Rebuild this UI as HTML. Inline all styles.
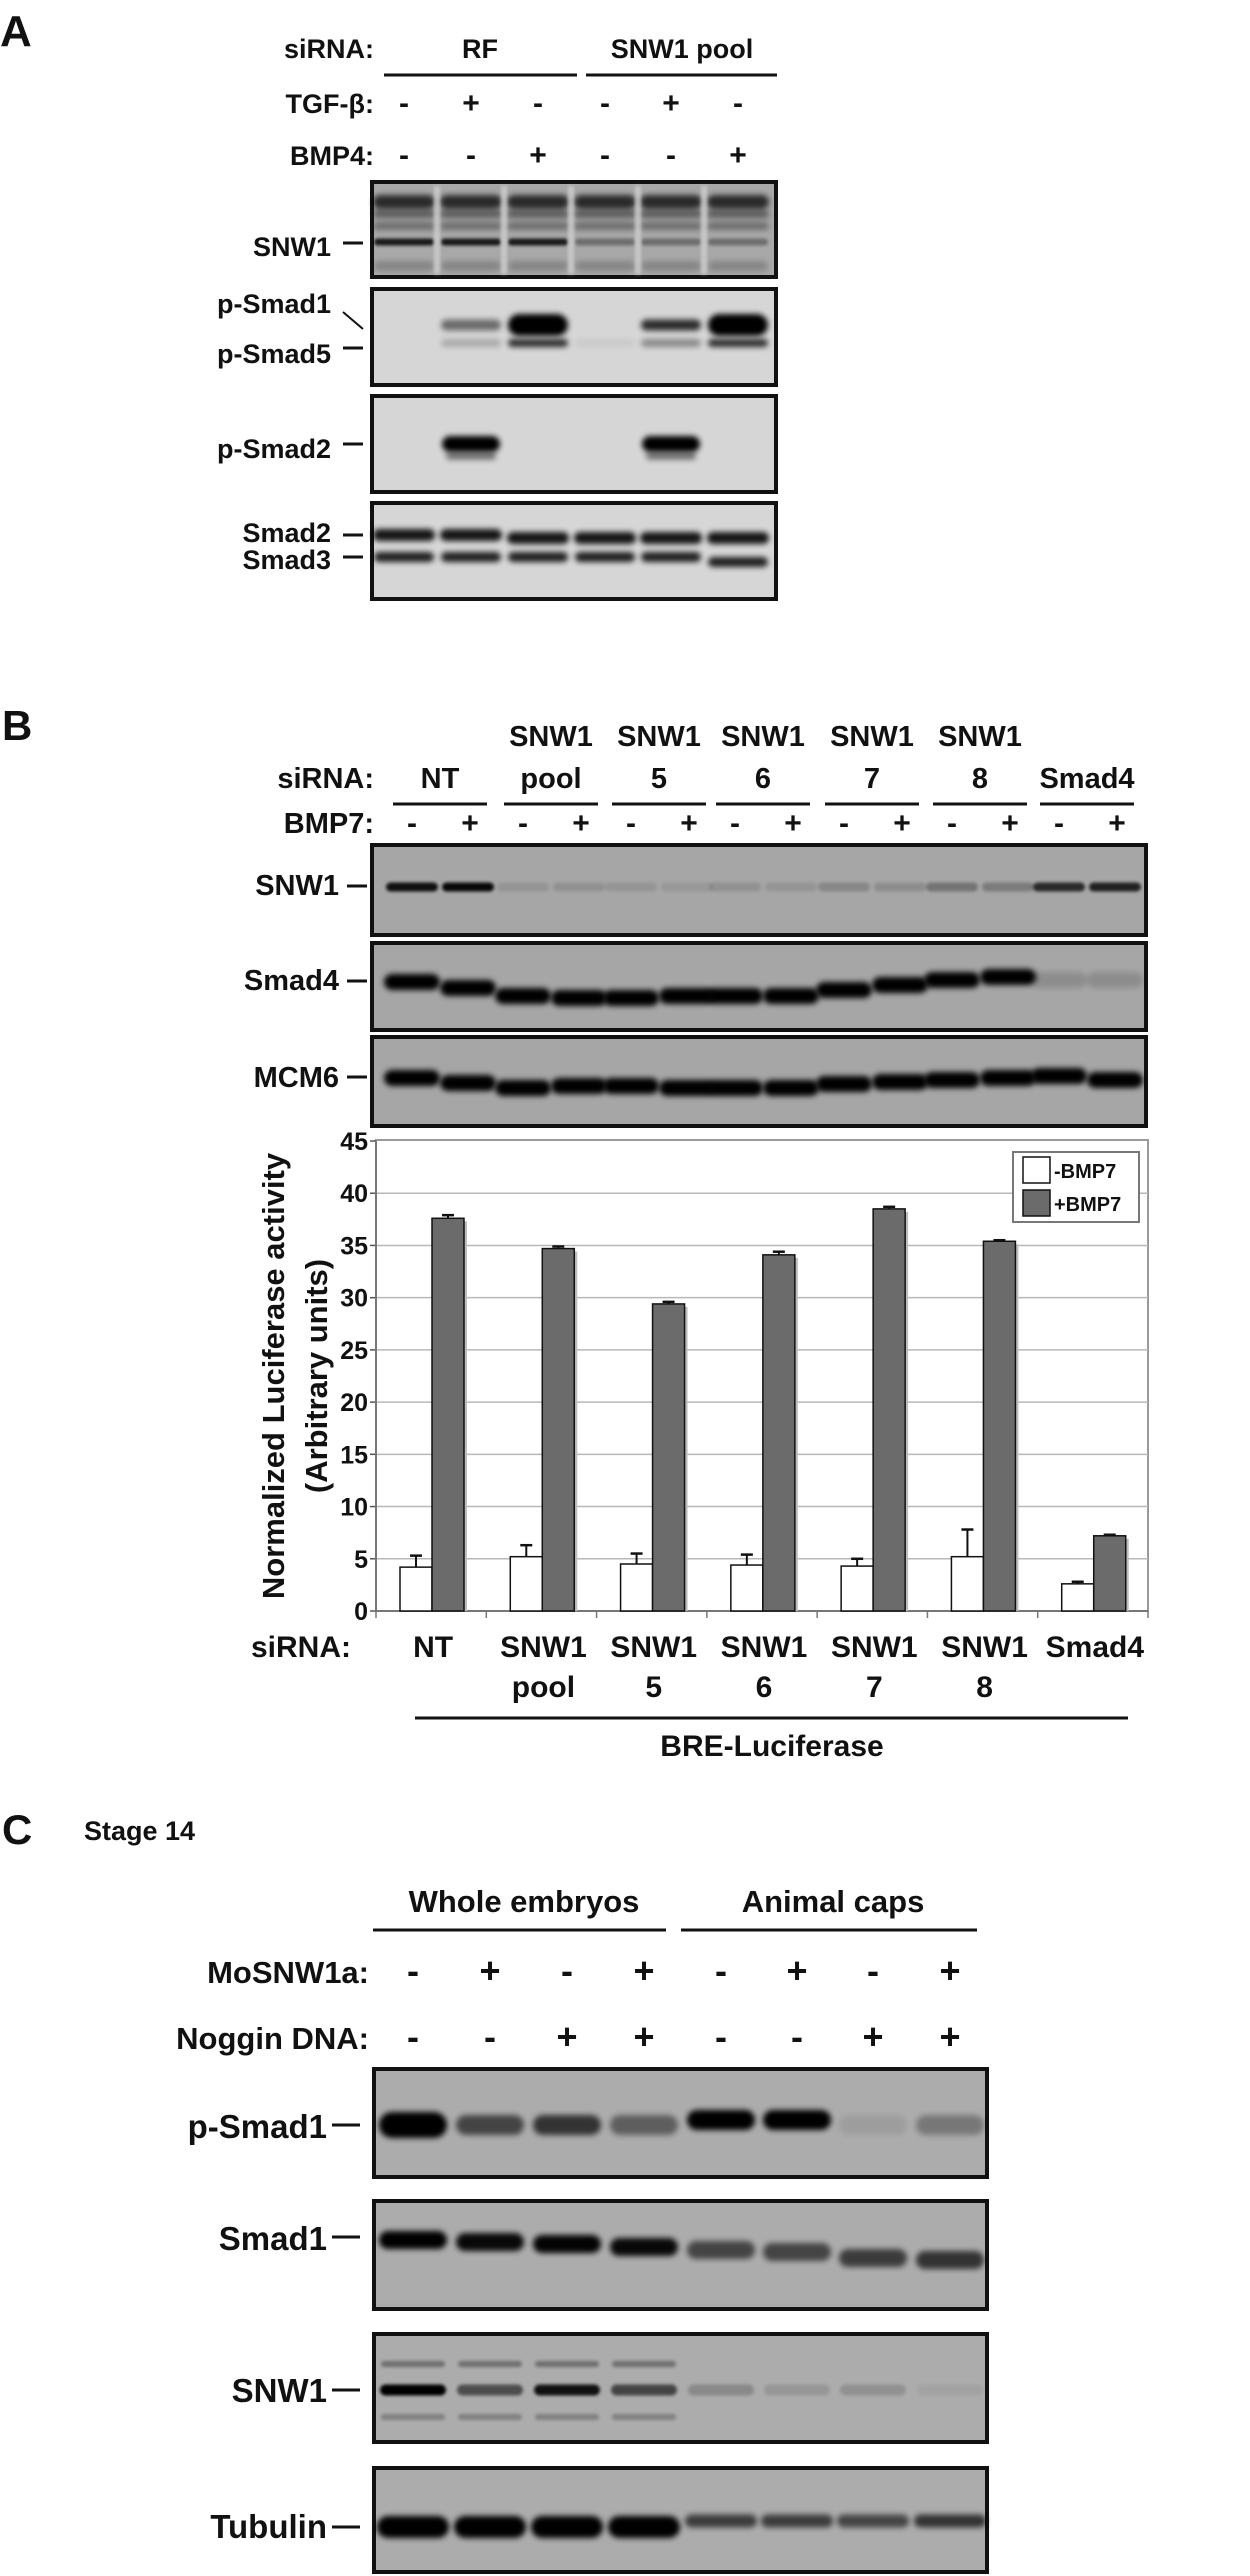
<!DOCTYPE html>
<html><head><meta charset="utf-8"><style>
html,body{margin:0;padding:0;background:#fff;}
svg{display:block;}
text{font-family:"Liberation Sans",Arial,sans-serif;font-weight:bold;fill:#111;}
</style></head><body>
<svg id="fig" width="1250" height="2576" viewBox="0 0 1250 2576" xmlns="http://www.w3.org/2000/svg">
<defs>
<filter id="blur" x="-20%" y="-100%" width="140%" height="300%"><feGaussianBlur stdDeviation="3"/></filter>
<filter id="blur2" x="-20%" y="-100%" width="140%" height="300%"><feGaussianBlur stdDeviation="1.6"/></filter>
</defs>

<!-- PANEL A -->
<g>
<text x="0" y="46" font-size="44">A</text>
<text x="374" y="58" font-size="27" text-anchor="end">siRNA:</text>
<text x="480" y="58" font-size="27" text-anchor="middle">RF</text>
<text x="682" y="58" font-size="27" text-anchor="middle">SNW1 pool</text>
<line x1="384" y1="75" x2="577" y2="75" stroke="#111" stroke-width="3"/>
<line x1="586" y1="75" x2="777" y2="75" stroke="#111" stroke-width="3"/>
<text x="374" y="113" font-size="27" text-anchor="end">TGF-β:</text>
<text x="374" y="165" font-size="27" text-anchor="end">BMP4:</text>
<g id="aSigns"></g>
<g id="aBlots"></g>
<text x="331" y="256" font-size="27" text-anchor="end">SNW1</text>
<line x1="343" y1="243" x2="363" y2="243" stroke="#111" stroke-width="3"/>
<text x="331" y="313" font-size="27" text-anchor="end">p-Smad1</text>
<line x1="343" y1="312" x2="363" y2="329" stroke="#111" stroke-width="2"/>
<text x="331" y="363" font-size="27" text-anchor="end">p-Smad5</text>
<line x1="343" y1="348" x2="363" y2="348" stroke="#111" stroke-width="3"/>
<text x="331" y="458" font-size="27" text-anchor="end">p-Smad2</text>
<line x1="343" y1="444" x2="363" y2="444" stroke="#111" stroke-width="3"/>
<text x="331" y="542" font-size="27" text-anchor="end">Smad2</text>
<line x1="343" y1="535" x2="363" y2="535" stroke="#111" stroke-width="3"/>
<text x="331" y="569" font-size="27" text-anchor="end">Smad3</text>
<line x1="343" y1="557" x2="363" y2="557" stroke="#111" stroke-width="3"/>
</g>

<!-- PANEL B -->
<g>
<text x="2" y="740" font-size="42">B</text>
<g id="bHeader"></g>
<text x="374" y="788" font-size="29" text-anchor="end">siRNA:</text>
<text x="374" y="833" font-size="29" text-anchor="end">BMP7:</text>
<g id="bBlots"></g>
<text x="339" y="895" font-size="29" text-anchor="end">SNW1</text>
<line x1="347" y1="886" x2="367" y2="886" stroke="#111" stroke-width="3"/>
<text x="339" y="990" font-size="29" text-anchor="end">Smad4</text>
<line x1="347" y1="981" x2="367" y2="981" stroke="#111" stroke-width="3"/>
<text x="339" y="1087" font-size="29" text-anchor="end">MCM6</text>
<line x1="347" y1="1077" x2="367" y2="1077" stroke="#111" stroke-width="3"/>
<g id="chart"></g>
</g>

<!-- PANEL C -->
<g>
<text x="2" y="1844" font-size="42">C</text>
<text x="84" y="1840" font-size="27">Stage 14</text>
<text x="524" y="1912" font-size="31" text-anchor="middle">Whole embryos</text>
<text x="833" y="1912" font-size="31" text-anchor="middle">Animal caps</text>
<line x1="373" y1="1930" x2="666" y2="1930" stroke="#111" stroke-width="3"/>
<line x1="681" y1="1930" x2="977" y2="1930" stroke="#111" stroke-width="3"/>
<text x="369" y="1983" font-size="31" text-anchor="end">MoSNW1a:</text>
<text x="369" y="2049" font-size="31" text-anchor="end">Noggin DNA:</text>
<g id="cSigns"></g>
<g id="cBlots"></g>
<text x="327" y="2138" font-size="33" text-anchor="end">p-Smad1</text>
<line x1="332" y1="2125" x2="360" y2="2125" stroke="#111" stroke-width="3"/>
<text x="327" y="2250" font-size="33" text-anchor="end">Smad1</text>
<line x1="332" y1="2237" x2="360" y2="2237" stroke="#111" stroke-width="3"/>
<text x="327" y="2402" font-size="33" text-anchor="end">SNW1</text>
<line x1="332" y1="2390" x2="360" y2="2390" stroke="#111" stroke-width="3"/>
<text x="327" y="2538" font-size="33" text-anchor="end">Tubulin</text>
<line x1="332" y1="2527" x2="360" y2="2527" stroke="#111" stroke-width="3"/>
</g>
</svg>

<script>
// ===== Chart data =====
const categories = ["NT", "SNW1|pool", "SNW1|5", "SNW1|6", "SNW1|7", "SNW1|8", "Smad4"];
const minusValues = [4.2, 5.2, 4.5, 4.4, 4.3, 5.2, 2.6];
const minusErrors = [1.1, 1.1, 1.0, 1.0, 0.7, 2.6, 0.2];
const plusValues = [37.6, 34.7, 29.4, 34.1, 38.5, 35.4, 7.2];
const plusErrors = [0.3, 0.2, 0.2, 0.3, 0.2, 0.1, 0.1];
const yTicks = [0, 5, 10, 15, 20, 25, 30, 35, 40, 45];
const seriesNames = ["-BMP7", "+BMP7"];

const NS = "http://www.w3.org/2000/svg";
function mk(tag, attrs, parent) {
  const e = document.createElementNS(NS, tag);
  for (const k in attrs) e.setAttribute(k, attrs[k]);
  parent.appendChild(e);
  return e;
}

// ===== Chart =====
(function () {
  const g = document.getElementById("chart");
  const L = 376, R = 1148, T = 1141, B = 1611, yMax = 45;
  const yScale = v => B - (v / yMax) * (B - T);
  const bandW = (R - L) / categories.length;
  const xScale = i => L + i * bandW;
  const barW = 32;

  const frame = mk("rect", {x: L, y: T - 1, width: R - L, height: B - T + 1, fill: "#fff", stroke: "#9a9a9a", "stroke-width": 2}, g);
  
  

  yTicks.forEach(t => {
    const y = yScale(t);
    if (t > 0 && t < yMax) {
      const gl = mk("line", {x1: L, x2: R, y1: y, y2: y, stroke: "#b8b8b8", "stroke-width": 1.5}, g);
      
      
    }
    const tk = mk("line", {x1: L - 6, x2: L, y1: y, y2: y, stroke: "#555", "stroke-width": 1.5}, g);
    
    
    const tl = mk("text", {x: L - 8, y: y + 9, "font-size": 25, "text-anchor": "end"}, g);
    tl.textContent = t;
    
    
  });
  const ax = mk("line", {x1: L, x2: L, y1: T, y2: B, stroke: "#777", "stroke-width": 2}, g);
  
  
  const xa = mk("line", {x1: L, x2: R, y1: B, y2: B, stroke: "#777", "stroke-width": 2}, g);
  
  
  for (let i = 0; i <= categories.length; i++) {
    const xt = mk("line", {x1: xScale(i), x2: xScale(i), y1: B, y2: B + 7, stroke: "#777", "stroke-width": 1.5}, g);
    
    
  }

  function bar(i, v, err, fill, off, name) {
    const x = xScale(i) + off;
    const y = yScale(v);
    const sh = mk("rect", {x: x + 3, y: y + 3, width: barW, height: B - y - 3, fill: "#bdbdbd"}, g);
    
    
    const r = mk("rect", {x: x, y: y, width: barW, height: B - y, fill: fill, stroke: "#111", "stroke-width": 1.5}, g);
    
    
    const ye = yScale(v + err);
    const e1 = mk("line", {x1: x + barW / 2, x2: x + barW / 2, y1: y, y2: ye, stroke: "#111", "stroke-width": 2}, g);
    
    
    const e2 = mk("line", {x1: x + barW / 2 - 6, x2: x + barW / 2 + 6, y1: ye, y2: ye, stroke: "#111", "stroke-width": 2.5}, g);
    
    
  }
  categories.forEach((c, i) => {
    bar(i, minusValues[i], minusErrors[i], "#fff", 24, "bar-minus-" + i);
    bar(i, plusValues[i], plusErrors[i], "#6b6b6b", 56, "bar-plus-" + i);
    const parts = c.split("|");
    parts.forEach((p, j) => {
      const t = mk("text", {x: xScale(i) + bandW / 2 + 2, y: 1657 + j * 40, "font-size": 30, "text-anchor": "middle"}, g);
      t.textContent = p;
      
      
    });
  });
  const sl = mk("text", {x: 351, y: 1657, "font-size": 30, "text-anchor": "end"}, g);
  sl.textContent = "siRNA:";
  
  
  const brl = mk("line", {x1: 415, x2: 1128, y1: 1718, y2: 1718, stroke: "#111", "stroke-width": 3}, g);
  
  
  const brt = mk("text", {x: 772, y: 1756, "font-size": 30, "text-anchor": "middle"}, g);
  brt.textContent = "BRE-Luciferase";
  
  

  const yt = mk("text", {x: 0, y: 0, "font-size": 31, "text-anchor": "middle", transform: "translate(284,1376) rotate(-90)"}, g);
  yt.textContent = "Normalized Luciferase activity";
  
  
  const yt2 = mk("text", {x: 0, y: 0, "font-size": 31, "text-anchor": "middle", transform: "translate(327,1376) rotate(-90)"}, g);
  yt2.textContent = "(Arbitrary units)";
  
  

  const lg = mk("rect", {x: 1013, y: 1152, width: 126, height: 70, fill: "#fff", stroke: "#777", "stroke-width": 2}, g);
  
  
  const fills = ["#fff", "#6b6b6b"];
  seriesNames.forEach((s, j) => {
    const sw = mk("rect", {x: 1023, y: 1157 + j * 33, width: 27, height: 26, fill: fills[j], stroke: "#111", "stroke-width": 1.5}, g);
    
    
    const lt = mk("text", {x: 1054, y: 1178 + j * 33, "font-size": 20}, g);
    lt.textContent = s;
    
    
  });
})();

// ===== Blot drawing =====
function blot(parent, x, y, w, h, bg, name) {
  const r = mk("rect", {x: x, y: y, width: w, height: h, fill: bg, stroke: "#111", "stroke-width": 4}, parent);
  
  
}
function band(parent, cx, cy, w, h, op, name, f) {
  const e = mk("rect", {x: cx - w / 2, y: cy - h / 2, width: w, height: h, rx: h / 2, fill: "#000", opacity: op, filter: "url(#" + (f || "blur") + ")"}, parent);
  
  
}
function sign(parent, x, y, s, size) {
  const t = mk("text", {x: x, y: y, "font-size": size, "text-anchor": "middle"}, parent);
  t.textContent = s;
  
  
}

// Panel A
(function () {
  const g = document.getElementById("aBlots");
  const s = document.getElementById("aSigns");
  const lanes = [404, 471, 538, 605, 671, 738];
  const tgf = ["-", "+", "-", "-", "+", "-"];
  const bmp = ["-", "-", "+", "-", "-", "+"];
  lanes.forEach((x, i) => { sign(s, x, 113, tgf[i], 30); sign(s, x, 165, bmp[i], 30); });
  blot(g, 372, 182, 404, 95, "#a8a8a8", "snw1-blot-a");
  lanes.forEach((x, i) => {
    band(g, x, 202, 62, 14, 0.75, 'band-top');
    band(g, x, 214, 62, 8, 0.45, 'band-top2');
    band(g, x, 226, 62, 8, 0.35, 'band-top3');
    band(g, x, 242, 60, 7, i < 3 ? 0.85 : 0.35, 'band-snw1-a', 'blur2');
    band(g, x, 266, 60, 10, 0.2, 'band-low');
  });
  [437, 504, 571, 638, 704].forEach(x => {
    const r = mk("rect", {x: x - 3, y: 186, width: 6, height: 88, fill: "#dcdcdc", opacity: 0.6, filter: "url(#blur2)"}, g);
    
    
  });
  blot(g, 372, 289, 404, 96, "#d6d6d6", "psmad15-blot-a");
  const p1 = [0, 0.5, 1, 0, 0.8, 1], p5 = [0, 0.2, 0.8, 0.05, 0.35, 0.8];
  lanes.forEach((x, i) => {
    if (p1[i]) band(g, x, 325, 60, p1[i] > 0.9 ? 22 : 11, p1[i], 'band-psmad1-a');
    if (p5[i]) band(g, x, 343, 60, 8, p5[i], 'band-psmad5-a');
  });
  blot(g, 372, 396, 404, 96, "#d6d6d6", "psmad2-blot-a");
  [1, 4].forEach(i => { band(g, lanes[i], 444, 58, 16, 1, 'band-psmad2-a'); band(g, lanes[i], 456, 50, 7, 0.5, 'band-psmad2b-a'); });
  blot(g, 372, 503, 404, 96, "#d6d6d6", "smad23-blot-a");
  lanes.forEach((x, i) => {
    band(g, x, 535 + (i > 1 ? 3 : 0), 62, 12, 0.9, 'band-smad2-a');
    band(g, x, 557 + (i === 5 ? 5 : 0), 60, 10, 0.85, 'band-smad3-a');
  });
})();

// Panel B
(function () {
  const h = document.getElementById("bHeader");
  const g = document.getElementById("bBlots");
  const centers = [440, 551, 659, 763, 872, 980, 1087];
  const top = ["", "SNW1", "SNW1", "SNW1", "SNW1", "SNW1", ""];
  const mid = ["NT", "pool", "5", "6", "7", "8", "Smad4"];
  centers.forEach((c, i) => {
    if (top[i]) { const t = mk("text", {x: c, y: 746, "font-size": 29, "text-anchor": "middle"}, h); t.textContent = top[i];   }
    const t2 = mk("text", {x: c, y: 788, "font-size": 29, "text-anchor": "middle"}, h);
    t2.textContent = mid[i];
    
    
    const l = mk("line", {x1: c - 47, x2: c + 47, y1: 804, y2: 804, stroke: "#111", "stroke-width": 3}, h);
    
    
    sign(h, c - 28, 833, "-", 30);
    sign(h, c + 30, 833, "+", 30);
  });
  const lanes = [];
  centers.forEach(c => { lanes.push(c - 28, c + 28); });
  const snw = [0.9, 0.95, 0.1, 0.12, 0.1, 0.08, 0.12, 0.1, 0.18, 0.15, 0.3, 0.25, 0.75, 0.8];
  blot(g, 372, 845, 774, 90, "#a6a6a6", "snw1-blot-b");
  lanes.forEach((x, i) => band(g, x, 887, 52, 9, snw[i], 'band-snw1-b', 'blur2'));
  blot(g, 372, 943, 774, 87, "#a6a6a6", "smad4-blot-b");
  const s4y = [982, 988, 996, 998, 998, 996, 996, 996, 990, 985, 980, 977, 980, 980];
  lanes.forEach((x, i) => band(g, x, s4y[i], 56, 16, i < 12 ? 1 : 0.15, 'band-smad4-b'));
  blot(g, 372, 1037, 774, 89, "#a6a6a6", "mcm6-blot-b");
  const my = [1078, 1083, 1088, 1086, 1086, 1088, 1088, 1088, 1084, 1082, 1080, 1078, 1076, 1080];
  lanes.forEach((x, i) => band(g, x, my[i], 56, 16, 1, 'band-mcm6-b'));
})();

// Panel C
(function () {
  const s = document.getElementById("cSigns");
  const g = document.getElementById("cBlots");
  const lanes = [413, 490, 567, 644, 721, 797, 873, 950];
  const mo = ["-", "+", "-", "+", "-", "+", "-", "+"];
  const nog = ["-", "-", "+", "+", "-", "-", "+", "+"];
  lanes.forEach((x, i) => { sign(s, x, 1983, mo[i], 36); sign(s, x, 2049, nog[i], 36); });
  blot(g, 374, 2069, 613, 108, "#acacac", "psmad1-blot-c");
  const p = [1, 0.6, 0.7, 0.45, 1, 1, 0.08, 0.3];
  lanes.forEach((x, i) => band(g, x, i > 3 && i < 6 ? 2120 : 2125, 68, i === 0 ? 26 : 20, p[i], 'band-psmad1-c'));
  blot(g, 374, 2201, 613, 108, "#acacac", "smad1-blot-c");
  const s1 = [1, 0.95, 0.98, 0.95, 0.6, 0.6, 0.65, 0.7];
  const s1y = [2240, 2242, 2244, 2247, 2250, 2252, 2258, 2260];
  lanes.forEach((x, i) => band(g, x, s1y[i], 68, 18, s1[i], 'band-smad1-c'));
  blot(g, 374, 2334, 613, 108, "#acacac", "snw1-blot-c");
  const sn = [1, 0.55, 0.9, 0.6, 0.2, 0.12, 0.15, 0.05];
  lanes.forEach((x, i) => {
    band(g, x, 2390, 66, 11, sn[i], 'band-snw1-c', 'blur2');
    if (i < 4) { band(g, x, 2364, 64, 6, 0.35, 'band-snw1-upper-c', 'blur2'); band(g, x, 2417, 64, 6, 0.25, 'band-snw1-lower-c', 'blur2'); }
  });
  blot(g, 374, 2468, 613, 104, "#acacac", "tubulin-blot-c");
  const tb = [1, 1, 1, 1, 0.65, 0.65, 0.6, 0.7];
  lanes.forEach((x, i) => band(g, x, i < 4 ? 2527 : 2521, 72, i < 4 ? 22 : 13, tb[i], 'band-tubulin-c'));
})();
</script>
</body></html>
